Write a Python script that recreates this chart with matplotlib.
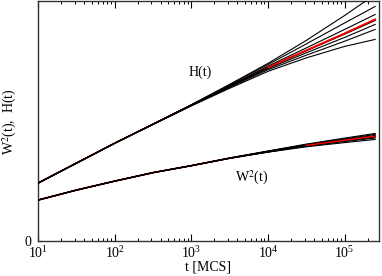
import matplotlib
matplotlib.use("Agg")
import matplotlib.pyplot as plt
from matplotlib.ticker import LogLocator, NullFormatter, FixedLocator

t = [10, 31.6, 100, 316, 1000, 3160, 10000, 31600, 100000, 250000]

# H(t) runs (arbitrary units)
H_runs = [
    [58.1, 78.1, 98.1, 117.2, 136.6, 157.0, 178.0, 201.0, 226.0, 247.0],
    [58.0, 78.0, 98.0, 117.1, 136.4, 156.3, 176.8, 197.5, 218.5, 235.0],
    [58.0, 78.0, 98.0, 117.0, 136.2, 155.5, 175.2, 193.5, 212.0, 227.0],
    [58.0, 78.0, 98.0, 117.0, 136.0, 154.9, 173.8, 190.6, 207.3, 221.0],
    [57.9, 77.9, 97.9, 116.9, 135.8, 154.5, 172.8, 188.6, 204.0, 217.0],
    [58.0, 77.9, 97.9, 116.9, 135.7, 154.0, 171.6, 186.2, 200.2, 212.0],
    [57.9, 77.9, 97.9, 116.8, 135.4, 153.0, 170.0, 183.5, 195.0, 202.0],
]
H_mean = [58.0, 78.0, 98.0, 117.0, 136.0, 155.0, 174.0, 191.0, 208.0, 222.0]

# W^2(t) runs
W_runs = [
    [41.0, 51.0, 60.0, 68.6, 75.6, 83.2, 90.2, 97.1, 103.1, 107.8],
    [41.0, 51.0, 60.0, 68.5, 75.5, 83.1, 90.0, 96.6, 102.4, 106.8],
    [41.0, 51.0, 60.0, 68.5, 75.5, 83.0, 89.8, 96.2, 101.6, 105.8],
    [41.0, 51.0, 60.0, 68.5, 75.5, 83.0, 89.6, 95.8, 101.0, 105.0],
    [41.0, 51.0, 60.0, 68.5, 75.5, 83.0, 89.4, 95.4, 100.4, 104.2],
    [41.0, 51.0, 60.0, 68.5, 75.5, 82.9, 89.2, 95.0, 99.6, 103.2],
    [41.0, 51.0, 60.0, 68.4, 75.4, 82.8, 89.0, 94.4, 98.6, 101.8],
]
W_mean = [41.0, 51.0, 60.0, 68.5, 75.5, 83.0, 89.6, 95.8, 101.0, 105.0]

plt.rcParams['font.family'] = ['Liberation Serif', 'DejaVu Serif']
plt.rcParams['mathtext.fontset'] = 'stix'

fig = plt.figure(figsize=(3.82, 2.76), dpi=100)
ax = fig.add_axes([0.0995, 0.1268, 0.8925, 0.8678])

for r in H_runs:
    ax.plot(t, r, color='black', lw=0.8, zorder=3)
for r in W_runs:
    ax.plot(t, r, color='black', lw=0.8, zorder=3)
ax.plot(t, H_mean, color='red', lw=1.3, zorder=2)
ax.plot(t, W_mean, color='red', lw=1.3, zorder=2)
ax.plot(t[6:], H_mean[6:], color='red', lw=1.1, zorder=4)
ax.plot(t[7:], W_mean[7:], color='red', lw=1.0, zorder=4)

ax.set_xscale('log')
ax.set_xlim(10, 2.8e5)
ax.set_ylim(0, 240)

ax.xaxis.set_major_locator(LogLocator(base=10, numticks=10))
ax.xaxis.set_minor_locator(LogLocator(base=10, subs=range(2, 10), numticks=20))
ax.xaxis.set_minor_formatter(NullFormatter())
ax.yaxis.set_major_locator(FixedLocator([0]))
ax.set_yticklabels(['0'])

ax.tick_params(axis='x', which='major', direction='in', length=5, width=0.8,
               top=True, labelsize=10, pad=3)
ax.tick_params(axis='x', which='minor', direction='in', length=2.5, width=0.7, top=True)
ax.tick_params(axis='y', which='major', direction='in', length=3, width=0.8,
               labelsize=10, pad=5)

for s in ax.spines.values():
    s.set_linewidth(1.0)
    s.set_color('#333333')

ax.set_xlabel('t [MCS]', fontsize=10, labelpad=-0.5)
ax.set_ylabel('W$^2$(t),  H(t)', fontsize=10, labelpad=4)

ax.text(1290, 169, 'H(t)', fontsize=10, ha='center', va='center')
ax.text(6170, 63, 'W$^2$(t)', fontsize=10, ha='center', va='center')

fig.savefig('out.png', dpi=100)
